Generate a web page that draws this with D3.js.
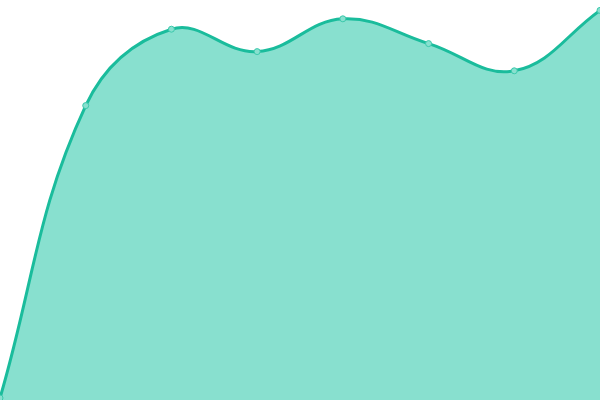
<!DOCTYPE html>
<html>
<head>
<meta charset="utf-8">
<script src="https://cdn.jsdelivr.net/npm/d3@7"></script>
<style>
  html, body { margin: 0; padding: 0; background: #fff; }
  svg { display: block; }
</style>
</head>
<body>
<div id="chart"></div>
<script>
const labels = ["1", "2", "3", "4", "5", "6", "7", "8"];
const values = [0.5, 73.6, 92.7, 87.1, 95.3, 89.1, 82.3, 97.4];

const width = 600, height = 400;

// spline where control points are weighted by segment length (like a tension 0.4 chart spline)
function SplineCurve(context, t) {
  this._context = context;
  this._t = t;
}
SplineCurve.prototype = {
  areaStart() { this._line = 0; },
  areaEnd() { this._line = NaN; },
  lineStart() { this._pts = []; },
  point(x, y) { this._pts.push([+x, +y]); },
  lineEnd() {
    const p = this._pts, n = p.length, c = this._context, t = this._t;
    if (n) {
      this._line ? c.lineTo(p[0][0], p[0][1]) : c.moveTo(p[0][0], p[0][1]);
      const cps = p.map((cur, i) => {
        const prev = p[i - 1] || cur, next = p[i + 1] || cur;
        const d01 = Math.hypot(cur[0] - prev[0], cur[1] - prev[1]);
        const d12 = Math.hypot(next[0] - cur[0], next[1] - cur[1]);
        let s01 = d01 / (d01 + d12), s12 = d12 / (d01 + d12);
        if (isNaN(s01)) s01 = 0;
        if (isNaN(s12)) s12 = 0;
        const fa = t * s01, fb = t * s12;
        const clampX = v => Math.max(0, Math.min(width, v));
        const clampY = v => Math.max(0, Math.min(height, v));
        return {
          px: clampX(cur[0] - fa * (next[0] - prev[0])),
          py: clampY(cur[1] - fa * (next[1] - prev[1])),
          nx: clampX(cur[0] + fb * (next[0] - prev[0])),
          ny: clampY(cur[1] + fb * (next[1] - prev[1]))
        };
      });
      for (let i = 1; i < n; i++) {
        c.bezierCurveTo(cps[i - 1].nx, cps[i - 1].ny, cps[i].px, cps[i].py, p[i][0], p[i][1]);
      }
    }
    if (this._line || (this._line !== 0 && n === 1)) c.closePath();
    this._line = 1 - this._line;
  }
};
const curve = context => new SplineCurve(context, 0.4);

const svg = d3.select("#chart")
  .append("svg")
  .attr("width", width)
  .attr("height", height);

const x = d3.scalePoint()
  .domain(labels)
  .range([0, width]);

const y = d3.scaleLinear()
  .domain([0, 100])
  .range([height, 0]);

const area = d3.area()
  .x((d, i) => x(labels[i]))
  .y0(height)
  .y1(d => y(d))
  .curve(curve);

const line = d3.line()
  .x((d, i) => x(labels[i]))
  .y(d => y(d))
  .curve(curve);

svg.append("path")
  .datum(values)
  .attr("d", area)
  .attr("fill", "#88e0cf");

svg.append("path")
  .datum(values)
  .attr("d", line)
  .attr("fill", "none")
  .attr("stroke", "#1abc9c")
  .attr("stroke-width", 3);

svg.append("g")
  .selectAll("circle")
  .data(values)
  .enter()
  .append("circle")
    .attr("cx", (d, i) => x(labels[i]))
    .attr("cy", d => y(d))
    .attr("r", 3)
    .attr("fill", "#88e0cf")
    .attr("stroke", "#3cc9ac")
    .attr("stroke-width", 1);
</script>
</body>
</html>
